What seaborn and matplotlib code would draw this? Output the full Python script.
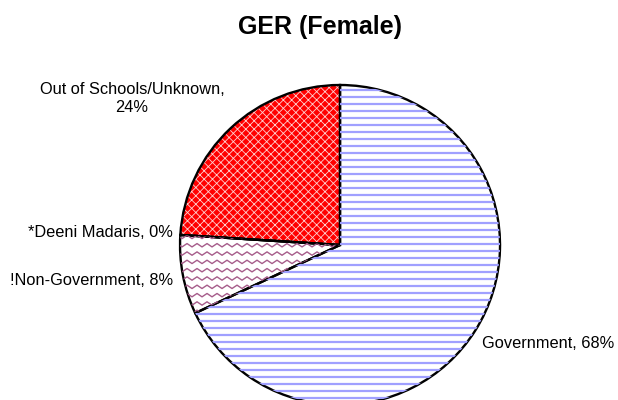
import numpy as np
import matplotlib
matplotlib.use("Agg")
import matplotlib.pyplot as plt
import seaborn as sns

# -------------------- DATA --------------------
categories = ["Government", "!Non-Government", "*Deeni Madaris", "Out of Schools/Unknown"]
values = [68, 8, 0, 24]
label_texts = ["Government, 68%", "!Non-Government, 8%", "*Deeni Madaris, 0%",
               "Out of Schools/Unknown,\n24%"]
title = "GER (Female)"

# -------------------- STYLE --------------------
sns.set_theme(style="white")
plt.rcParams['font.family'] = ['Liberation Sans', 'DejaVu Sans']
plt.rcParams['hatch.linewidth'] = 0.6

fig = plt.figure(figsize=(6.18, 4), dpi=100)
ax = fig.add_axes([0.2913, -0.0125, 0.5178, 0.8])

# base wedges (fill only)
face = ["white", "white", "white", "#FF0000"]
hatch_col = ["#9999FF", "#993366", "#993366", "#FFD0D0"]
wedges, _ = ax.pie(values, startangle=90, counterclock=False, radius=1,
                   colors=face, wedgeprops=dict(linewidth=0))
for w, hc in zip(wedges, hatch_col):
    w.set_edgecolor(hc)
wedges[3].set_hatch("xxxx")

# horizontal stripes for Government
xs = np.linspace(-1.05, 1.05, 2)
for yy in np.arange(-1.0, 1.0, 0.04375):
    ln, = ax.plot(xs, [yy, yy], color="#A0A0FF", lw=1.6, solid_capstyle="butt")
    ln.set_clip_path(wedges[0])

# zigzag texture for Non-Government
zx = np.arange(-1.05, 1.05, 0.03125)
for yy in np.arange(-1.0, 1.0, 0.052):
    zy = yy + np.where(np.arange(len(zx)) % 2 == 0, 0.0, 0.021)
    ln, = ax.plot(zx, zy, color="#A65C8A", lw=1.0)
    ln.set_clip_path(wedges[1])

# outlines
ax.pie(values, startangle=90, counterclock=False, radius=1,
       wedgeprops=dict(facecolor="none", edgecolor="black", linewidth=1.7))

ax.set_xlim(-1, 1)
ax.set_ylim(-1, 1)
ax.set_aspect("auto")
ax.axis("off")

# labels
label_pos = [(0.8875, -0.6125), (-1.044, -0.219), (-1.044, 0.075), (-1.3, 0.916)]
label_ha = ["left", "right", "right", "center"]
for txt, (lx, ly), ha in zip(label_texts, label_pos, label_ha):
    ax.text(lx, ly, txt, ha=ha, va="center", multialignment="center",
            fontsize=11.8, color="black", clip_on=False)

fig.text(0.518, 0.932, title, ha="center", va="center", fontsize=18,
         fontweight="bold", color="black")

fig.savefig("out.png", dpi=100)
